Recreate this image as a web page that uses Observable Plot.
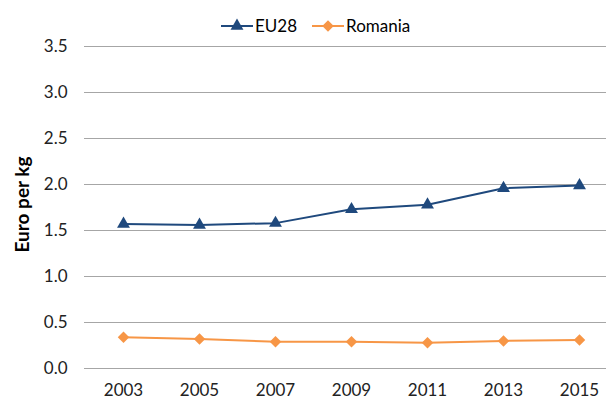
<!DOCTYPE html>
<html><head><meta charset="utf-8">
<script src="https://cdn.jsdelivr.net/npm/d3@7"></script>
<script src="https://cdn.jsdelivr.net/npm/@observablehq/plot@0.6"></script>
<style>
body{margin:0;background:#fff;font-family:Lato,"Open Sans",sans-serif}
#wrap{position:relative;width:606px;height:400px;overflow:hidden}
#legend{position:absolute;top:17px;left:221px;display:flex;align-items:center;font-size:17px;color:#000;line-height:18px}
.item{display:flex;align-items:center;margin-right:15px}
.item svg{display:block;margin-right:2px}
</style></head><body>
<div id="wrap"><div id="legend"></div></div>
<script>
const years = ["2003","2005","2007","2009","2011","2013","2015"];
const eu28 = [1.57,1.56,1.58,1.73,1.78,1.96,1.99];
const romania = [0.34,0.32,0.29,0.29,0.28,0.30,0.31];
const seriesNames = ["EU28","Romania"];
const seriesColors = ["#1f497d","#f79646"];
const seriesSymbols = ["triangle","diamond2"];
const seriesR = [4.8,5.2];
const yTicks = [0,0.5,1,1.5,2,2.5,3,3.5];

const data = [];
years.forEach((y,i)=>{
  data.push({year:y, value:eu28[i], series:seriesNames[0]});
  data.push({year:y, value:romania[i], series:seriesNames[1]});
});

const plot = Plot.plot({
  width:606, height:400,
  marginLeft:84, marginRight:0, marginTop:46, marginBottom:32,
  style:{fontFamily:"Lato, 'Open Sans', sans-serif", fontSize:"17px", color:"#000", background:"#fff"},
  x:{type:"point", domain:years, range:[122,580], padding:0, label:null},
  y:{domain:[0,3.5], label:null},
  color:{domain:seriesNames, range:seriesColors},
  marks:[
    Plot.gridY(yTicks,{stroke:"#a6a6a6", strokeOpacity:1, strokeWidth:1}),
    Plot.ruleX([0],{x:()=>null, frameAnchor:"left", stroke:"#a6a6a6"}),
    Plot.axisY(yTicks,{tickSize:0, tickPadding:17, tickFormat:d3.format(".1f"), fontSize:17, fill:"#222"}),
    Plot.axisX({tickSize:0, tickPadding:15, fontSize:17, fill:"#222"}),
    Plot.text(["Euro per kg"],{frameAnchor:"left", textAnchor:"middle", dx:-62, dy:-3, rotate:-90, fontWeight:"bold", fontSize:19, fill:"#000"}),
    Plot.line(data,{x:"year", y:"value", z:"series", stroke:"series", strokeWidth:2}),
    Plot.dot(data.filter(d=>d.series===seriesNames[0]),{x:"year", y:"value", symbol:()=>seriesSymbols[0], r:seriesR[0], fill:seriesColors[0], stroke:"none"}),
    Plot.dot(data.filter(d=>d.series===seriesNames[1]),{x:"year", y:"value", symbol:()=>seriesSymbols[1], r:seriesR[1], fill:seriesColors[1], stroke:"none"})
  ]
});
document.getElementById("wrap").prepend(plot);

// legend
const legend = document.getElementById("legend");
seriesNames.forEach((name,i)=>{
  const item = document.createElement("div");
  item.className="item";
  const svg = d3.create("svg").attr("width",32).attr("height",16);
  svg.append("line").attr("x1",0).attr("x2",32).attr("y1",8).attr("y2",8)
    .attr("stroke",seriesColors[i]).attr("stroke-width",2);
  const sym = i===0 ? d3.symbolTriangle : d3.symbolDiamond2;
  svg.append("path").attr("transform","translate(16,8)")
    .attr("d", d3.symbol(sym, Math.PI*seriesR[i]*seriesR[i])())
    .attr("fill",seriesColors[i]);
  item.appendChild(svg.node());
  const span = document.createElement("span");
  span.textContent = name;
  item.appendChild(span);
  legend.appendChild(item);
});
</script>
</body></html>
